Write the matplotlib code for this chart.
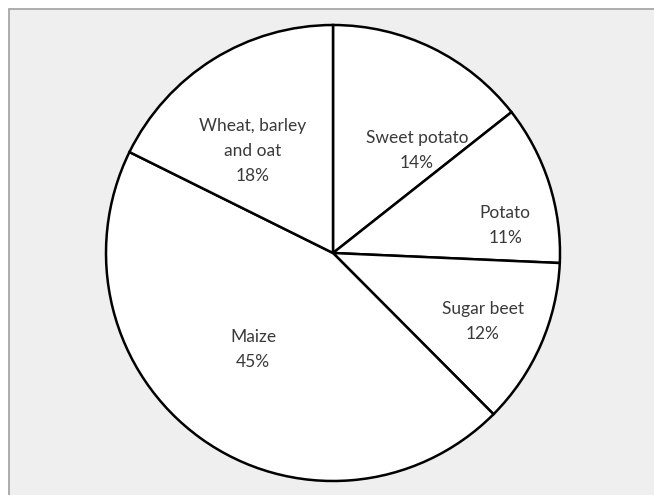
import matplotlib
matplotlib.use("Agg")
import matplotlib.pyplot as plt
from matplotlib.patches import Rectangle

categories = ["Sweet potato", "Potato", "Sugar beet", "Maize", "Wheat, barley\nand oat"]
values = [14.4, 11.3, 11.8, 44.8, 17.7]
pct_labels = ["14%", "11%", "12%", "45%", "18%"]
# label anchor positions (axes data coords, pie radius = 1)
label_pos = [(0.37, 0.45), (0.758, 0.12), (0.66, -0.30), (-0.352, -0.425), (-0.352, 0.447)]

W, H = 654, 495
fig = plt.figure(figsize=(W / 100, H / 100), dpi=100, facecolor="white")

# gray chart area with frame
fig.patches.append(Rectangle((8.5 / W, -0.1), 1, (H - 8.5) / H + 0.1, transform=fig.transFigure,
                             facecolor="#efefef", edgecolor="#a0a0a0", linewidth=1.2, zorder=-10))

cx, cy, rx, ry = 333, H - 253, 227, 228
ax = fig.add_axes([(cx - rx) / W, (cy - ry) / H, 2 * rx / W, 2 * ry / H])
ax.set_zorder(5)
ax.set_facecolor("none")
ax.pie(values, startangle=90, counterclock=False, radius=1,
       colors=["white"] * len(values),
       wedgeprops=dict(edgecolor="black", linewidth=1.8))
ax.set_aspect("auto")
ax.set_xlim(-1, 1)
ax.set_ylim(-1, 1)
ax.axis("off")

for name, pct, (x, y) in zip(categories, pct_labels, label_pos):
    ax.text(x, y, f"{name}\n{pct}", ha="center", va="center", fontsize=12.5,
            family="Lato", color="#3a3a3a", linespacing=1.7)

fig.savefig("out.png", dpi=100, facecolor=fig.get_facecolor())
